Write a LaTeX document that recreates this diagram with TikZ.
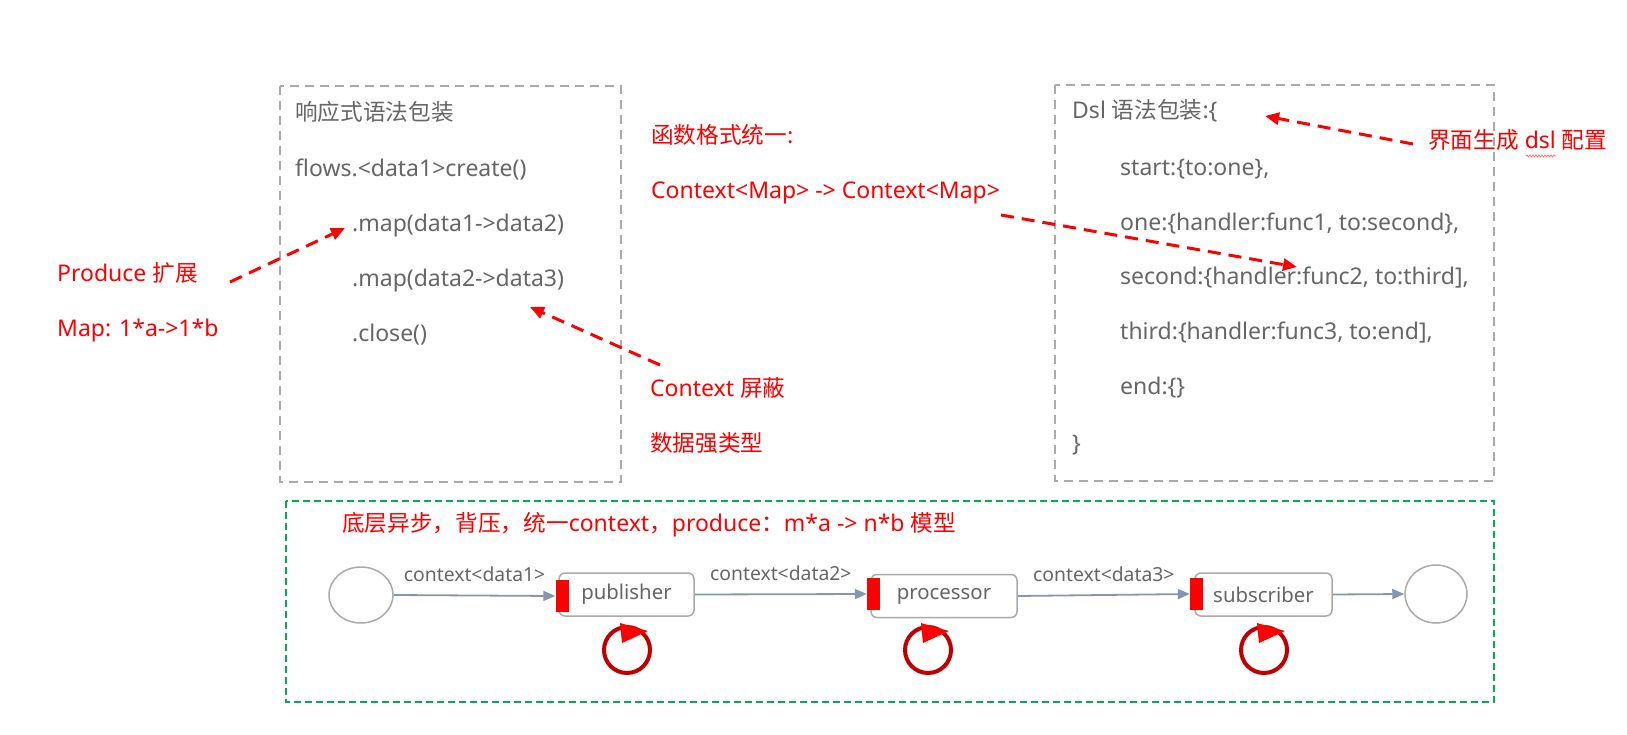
\documentclass[tikz,border=0pt]{standalone}
\usepackage{fontspec}
\setmainfont[Scale=1.045]{Noto Sans}
\newfontfamily\zh[Scale=1.03]{Noto Sans CJK SC}
\usetikzlibrary{arrows.meta,decorations.pathmorphing,shapes.geometric}
\definecolor{txtgrey}{HTML}{666666}
\definecolor{boxgrey}{HTML}{AAAAAA}
\definecolor{myred}{HTML}{FF0000}
\definecolor{darkred}{HTML}{C00000}
\definecolor{mygreen}{HTML}{00B050}
\definecolor{flowblue}{HTML}{8497B0}
\begin{document}
\begin{tikzpicture}[x=1pt,y=-1pt,
  basetxt/.style={anchor=west, inner sep=0pt, font=\fontsize{22}{26}\selectfont, text height=16pt, text depth=4pt},
  greytxt/.style={basetxt, text=txtgrey},
  redtxt/.style={basetxt, text=myred},
  greyframe/.style={draw=boxgrey, line width=1.8pt, dash pattern=on 9pt off 6pt},
  greenframe/.style={draw=mygreen, line width=1.8pt, dash pattern=on 7pt off 4pt},
  reddash/.style={draw=myred, line width=3pt, dash pattern=on 13pt off 8pt, -{Triangle[length=14pt,width=12pt]}},
  endpoint/.style={ellipse, draw=boxgrey, line width=1.5pt, inner sep=0pt},
  stagebox/.style={draw=boxgrey, line width=1.5pt, rounded corners=6pt, inner sep=0pt, minimum height=43pt, text=txtgrey, font=\fontsize{19.5}{23}\selectfont},
  redbar/.style={fill=myred, inner sep=0pt, minimum width=13pt, minimum height=32pt},
  flow/.style={draw=flowblue, line width=1.8pt, -{Triangle[length=12pt,width=10pt]}},
  flowlbl/.style={text=txtgrey, inner sep=0pt, font=\fontsize{18.5}{22}\selectfont},
  cyc/.style={circle, draw=darkred, line width=4pt, inner sep=0pt, minimum size=46pt},
  cyctip/.style={fill=myred}
]
\fill[white] (0,0) rectangle (1627,735);
\useasboundingbox (0,0) rectangle (1627,735);

% frames
\draw[greyframe] (280,86) rectangle (621,482);
\draw[greyframe] (1055,85) rectangle (1494,481);
\draw[greenframe] (286,501) rectangle (1494,702);

% left box text
\node[greytxt] (l1) at (295,115) {\zh 响应式语法包装};
\node[greytxt] (l2) at (295,171) {flows.<data1>create()};
\node[greytxt] (l3) at (352,226) {.map(data1->data2)};
\node[greytxt] (l4) at (352,281) {.map(data2->data3)};
\node[greytxt] (l5) at (352,335) {.close()};

% right box text
\node[greytxt] (r1) at (1072,113) {Dsl {\zh 语法包装}:\{};
\node[greytxt] (r2) at (1120,170) {start:\{to:one\},};
\node[greytxt] (r3) at (1120,225) {one:\{handler:func1, to:second\},};
\node[greytxt] (r4) at (1120,278) {second:\{handler:func2, to:third],};
\node[greytxt] (r5) at (1120,333) {third:\{handler:func3, to:end],};
\node[greytxt] (r6) at (1120,388) {end:\{\}};
\node[greytxt] (r7) at (1072,445) {\}};

% red annotations
\node[redtxt] (m1) at (651,138) {\zh 函数格式统一:};
\node[redtxt] (m2) at (651,193) {Context<Map> -> Context<Map>};
\node[redtxt] (p1) at (57,275) {Produce {\zh 扩展}};
\node[redtxt] (p2) at (57,330) {Map: 1*a->1*b};
\node[redtxt] (c1) at (650,390) {Context {\zh 屏蔽}};
\node[redtxt] (c2) at (650,445) {\zh 数据强类型};
\node[redtxt] (u1) at (1428,143) {{\zh 界面生成} dsl {\zh 配置}};
\draw[myred!55, line width=0.8pt, decorate, decoration={snake, amplitude=1pt, segment length=3pt}] (1526,156) -- (1556,156);
\node[redtxt] (g1) at (342,525) {{\zh 底层异步，背压，统一}context{\zh ，}produce{\zh ：}m*a -> n*b {\zh 模型}};

% pipeline
\node[endpoint, minimum width=64pt, minimum height=56pt] (src) at (361,595) {};
\node[stagebox, minimum width=135pt] (pub) at (626.5,594.5) {publisher};
\node[stagebox, minimum width=146pt] (proc) at (944,596) {processor};
\node[stagebox, minimum width=137pt] (sub) at (1263.5,594.5) {subscriber};
\node[endpoint, minimum width=62pt, minimum height=58pt] (dst) at (1436,594) {};
\node[redbar] (pubbar) at (562,596) {};
\node[redbar] (procbar) at (873.5,594) {};
\node[redbar] (subbar) at (1196.5,594) {};

\draw[flow] (src.east) -- (pubbar.west) node[flowlbl, midway, yshift=21pt] {context<data1>};
\draw[flow] (pub.east) -- (procbar.west) node[flowlbl, midway, yshift=21pt] {context<data2>};
\draw[flow] (proc.east) -- (subbar.west) node[flowlbl, midway, yshift=21pt] {context<data3>};
\draw[flow] (sub.east) -- (dst.west);

% cycles
\node[cyc] (cy1) at (627,650) {};
\node[cyc] (cy2) at (928,650) {};
\node[cyc] (cy3) at (1264,650) {};
\foreach \c in {cy1,cy2,cy3}{
  \fill[cyctip] ([shift={(-7,-27)}]\c.center) -- ([shift={(-5,-7)}]\c.center) -- ([shift={(21,-19)}]\c.center) -- cycle;
}

% red dashed arrows
\coordinate (a1s) at (230,282); \coordinate (a1e) at (345,228);
\coordinate (a2s) at (660,365); \coordinate (a2e) at (530,307);
\coordinate (a3s) at (1001,215); \coordinate (a3e) at (1297,267);
\coordinate (a4s) at (1413,144); \coordinate (a4e) at (1265,116);
\draw[reddash] (a1s) -- (a1e);
\draw[reddash] (a2s) -- (a2e);
\draw[reddash] (a3s) -- (a3e);
\draw[reddash] (a4s) -- (a4e);
\end{tikzpicture}
\end{document}
